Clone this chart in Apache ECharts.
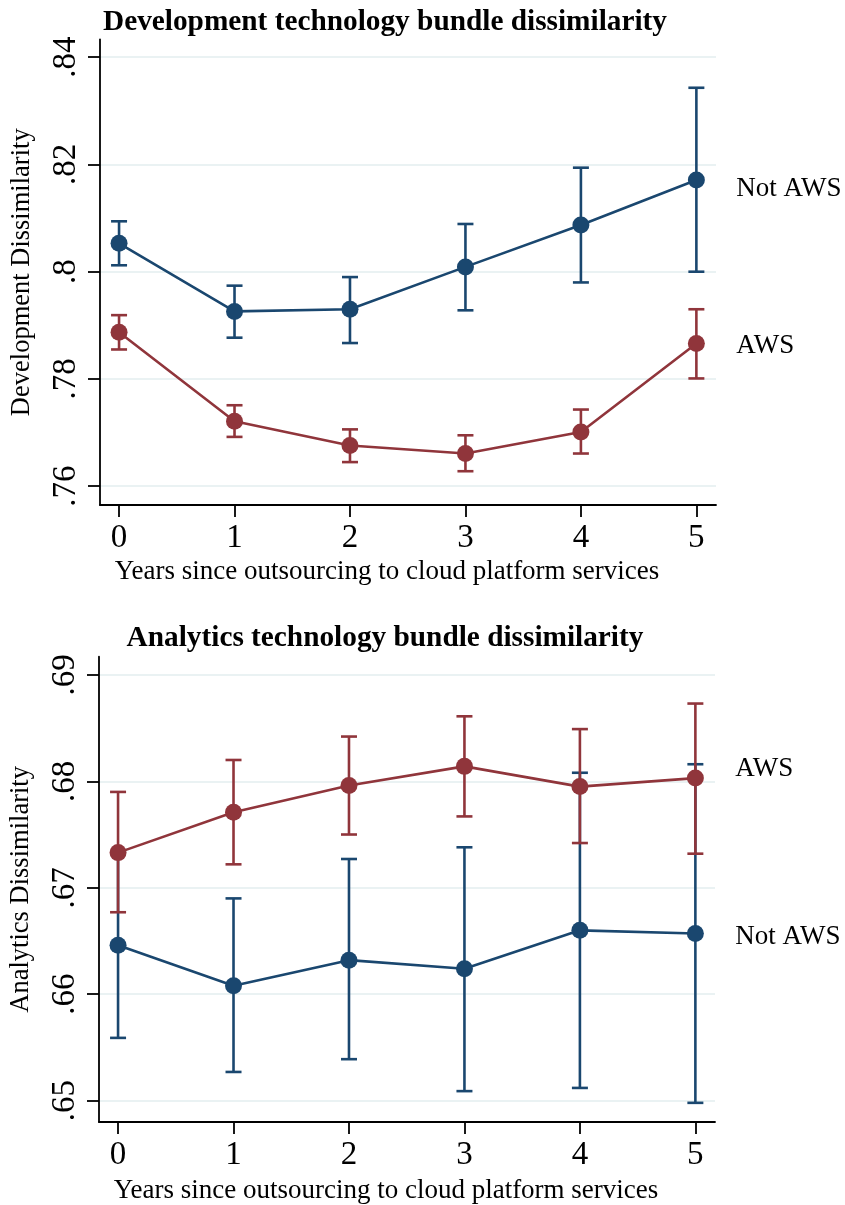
<!DOCTYPE html>
<html>
<head>
<meta charset="utf-8">
<script src="https://cdn.jsdelivr.net/npm/echarts@6/dist/echarts.min.js"></script>
<style>
html,body{margin:0;padding:0;background:#fff;}
#chart{width:845px;height:1205px;}
</style>
</head>
<body>
<div id="chart"></div>
<script>
// ---- data ----
const years = [0, 1, 2, 3, 4, 5];

const devNotAws   = [0.8053, 0.7926, 0.7930, 0.8009, 0.8087, 0.8171];
const devNotAwsLo = [0.8012, 0.7877, 0.7867, 0.7928, 0.7980, 0.8000];
const devNotAwsHi = [0.8094, 0.7974, 0.7990, 0.8089, 0.8194, 0.8343];
const devAws      = [0.7887, 0.7721, 0.7676, 0.7661, 0.7701, 0.7866];
const devAwsLo    = [0.7855, 0.7692, 0.7645, 0.7628, 0.7661, 0.7801];
const devAwsHi    = [0.7919, 0.7751, 0.7706, 0.7695, 0.7743, 0.7930];

const anaNotAws   = [0.6646, 0.6608, 0.6632, 0.6624, 0.6660, 0.6657];
const anaNotAwsLo = [0.6559, 0.6527, 0.6539, 0.6509, 0.6512, 0.6498];
const anaNotAwsHi = [0.6733, 0.6690, 0.6727, 0.6738, 0.6808, 0.6816];
const anaAws      = [0.6733, 0.6771, 0.6796, 0.6814, 0.6795, 0.6803];
const anaAwsLo    = [0.6677, 0.6722, 0.6750, 0.6767, 0.6742, 0.6732];
const anaAwsHi    = [0.6790, 0.6820, 0.6842, 0.6861, 0.6849, 0.6873];

const devTicks = [0.76, 0.78, 0.80, 0.82, 0.84];
const devTickLabels = ['.76', '.78', '.8', '.82', '.84'];
const anaTicks = [0.65, 0.66, 0.67, 0.68, 0.69];
const anaTickLabels = ['.65', '.66', '.67', '.68', '.69'];

const titles = ['Development technology bundle dissimilarity', 'Analytics technology bundle dissimilarity'];
const yNames = ['Development Dissimilarity', 'Analytics Dissimilarity'];
const xName = 'Years since outsourcing to cloud platform services';
const seriesNames = ['Not AWS', 'AWS'];

// ---- styles ----
const FONT = '"Liberation Serif", "Times New Roman", serif';
const BLUE = '#1a476f';
const RED = '#90353b';
const GRID = '#eaf2f3';

function pairs(vals) { return years.map((x, i) => [x, vals[i]]); }
function bars(lo, hi) { return years.map((x, i) => [x, lo[i], hi[i]]); }

function errRender(color) {
  return function (params, api) {
    const x = api.value(0);
    const p1 = api.coord([x, api.value(1)]);
    const p2 = api.coord([x, api.value(2)]);
    const hw = 8;
    const st = { stroke: color, lineWidth: 2.6 };
    return {
      type: 'group',
      children: [
        { type: 'line', shape: { x1: p1[0], y1: p1[1], x2: p2[0], y2: p2[1] }, style: st },
        { type: 'line', shape: { x1: p1[0] - hw, y1: p1[1], x2: p1[0] + hw, y2: p1[1] }, style: st },
        { type: 'line', shape: { x1: p2[0] - hw, y1: p2[1], x2: p2[0] + hw, y2: p2[1] }, style: st }
      ]
    };
  };
}

function xAxisFor(gi, nameGap) {
  return {
    type: 'value', gridIndex: gi, min: -0.165, max: 5.17,
    axisLine: { show: true, onZero: false, lineStyle: { color: '#000', width: 1.8 } },
    axisTick: { show: true, length: 12, lineStyle: { color: '#000', width: 1.8 }, customValues: years },
    axisLabel: { customValues: years, fontFamily: FONT, fontSize: 33, color: '#000', margin: 17 },
    splitLine: { show: false },
    name: xName, nameLocation: 'middle', nameGap: nameGap,
    nameTextStyle: { fontFamily: FONT, fontSize: 27, color: '#000', padding: [0, 42, 0, 0] }
  };
}

function yAxisFor(gi, min, max, ticks, labels, name) {
  return {
    type: 'value', gridIndex: gi, min: min, max: max,
    axisLine: { show: true, onZero: false, lineStyle: { color: '#000', width: 1.8 } },
    axisTick: { show: true, length: 12, lineStyle: { color: '#000', width: 1.8 }, customValues: ticks },
    axisLabel: {
      customValues: ticks, rotate: 90, fontFamily: FONT, fontSize: 33, color: '#000', margin: 17,
      formatter: function (v) {
        const idx = ticks.findIndex(t => Math.abs(t - v) < 1e-9);
        return idx >= 0 ? labels[idx] : '';
      }
    },
    splitLine: { show: true, lineStyle: { color: GRID, width: 2 } },
    name: name, nameLocation: 'middle', nameGap: 64,
    nameTextStyle: { fontFamily: FONT, fontSize: 26.5, color: '#000' }
  };
}

function lineSeries(gi, name, vals, color, offset) {
  return {
    type: 'line', name: name, xAxisIndex: gi, yAxisIndex: gi,
    data: pairs(vals), symbol: 'circle', symbolSize: 17,
    itemStyle: { color: color }, lineStyle: { color: color, width: 2.6 },
    endLabel: {
      show: true, formatter: name, distance: 40, offset: offset,
      fontFamily: FONT, fontSize: 27, color: '#000'
    },
    emphasis: { disabled: true }
  };
}

function errSeries(gi, lo, hi, color) {
  return {
    type: 'custom', xAxisIndex: gi, yAxisIndex: gi,
    data: bars(lo, hi), renderItem: errRender(color),
    encode: { x: 0, y: [1, 2] }, silent: true
  };
}

const option = {
  animation: false,
  backgroundColor: '#fff',
  title: [
    { text: titles[0], left: 380, top: 3, textAlign: 'center',
      textStyle: { fontFamily: FONT, fontSize: 29.3, fontWeight: 'bold', color: '#000' } },
    { text: titles[1], left: 380, top: 619, textAlign: 'center',
      textStyle: { fontFamily: FONT, fontSize: 29.3, fontWeight: 'bold', color: '#000' } }
  ],
  grid: [
    { left: 100, right: 129, top: 39.5, height: 465.5 },
    { left: 96, right: 130, top: 656.7, height: 466.6 }
  ],
  xAxis: [xAxisFor(0, 53), xAxisFor(1, 55)],
  yAxis: [
    yAxisFor(0, 0.7565, 0.8433, devTicks, devTickLabels, yNames[0]),
    yAxisFor(1, 0.6480, 0.6917, anaTicks, anaTickLabels, yNames[1])
  ],
  series: [
    errSeries(0, devNotAwsLo, devNotAwsHi, BLUE),
    lineSeries(0, seriesNames[0], devNotAws, BLUE, [0, 9]),
    errSeries(0, devAwsLo, devAwsHi, RED),
    lineSeries(0, seriesNames[1], devAws, RED, [0, 2]),
    errSeries(1, anaNotAwsLo, anaNotAwsHi, BLUE),
    lineSeries(1, seriesNames[0], anaNotAws, BLUE, [0, 3]),
    errSeries(1, anaAwsLo, anaAwsHi, RED),
    lineSeries(1, seriesNames[1], anaAws, RED, [0, -9])
  ]
};

const chart = echarts.init(document.getElementById('chart'), null, { renderer: 'canvas' });
chart.setOption(option);
</script>
</body>
</html>
